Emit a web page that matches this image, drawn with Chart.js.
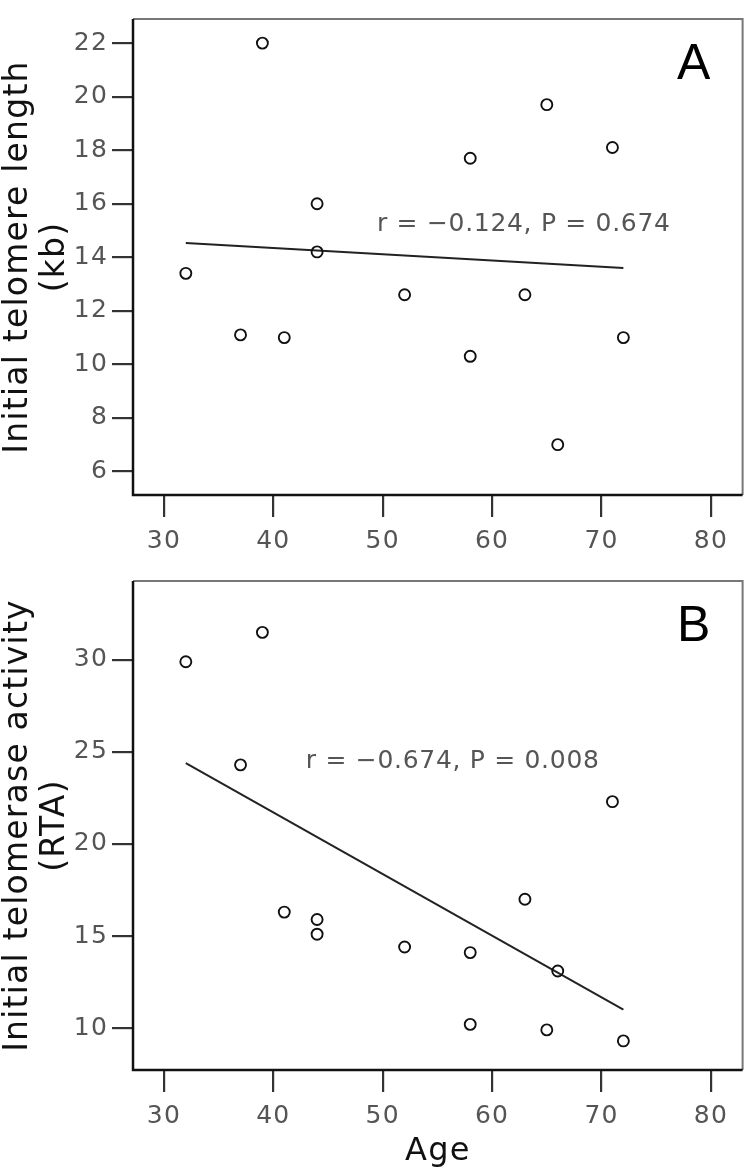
<!DOCTYPE html>
<html>
<head>
<meta charset="utf-8">
<title>Initial telomere length / telomerase activity vs Age</title>
<script src="https://cdn.jsdelivr.net/npm/chart.js"></script>
<style>
	body { margin: 0; background: #fff; }
	#lengthChart { position: absolute; left: 0; top: 0; }
	#activityChart { position: absolute; left: 0; top: 560px; }
</style>
</head>
<body>
<canvas id="lengthChart" width="750" height="560"></canvas>
<canvas id="activityChart" width="750" height="614"></canvas>
<script>
// ----------------data-------------------------

const ages = [32, 37, 39, 41, 44, 44, 52, 58, 58, 63, 65, 66, 71, 72];

const telomereLength = [13.4, 11.1, 22.0, 11.0, 16.0, 14.2, 12.6, 17.7, 10.3, 12.6, 19.7, 7.0, 18.1, 11.0];

const telomeraseActivity = [29.9, 24.3, 31.5, 16.3, 15.9, 15.1, 14.4, 14.1, 10.2, 17.0, 9.9, 13.1, 22.3, 9.3];

// fitted lines at both ends
const fitAges = [32, 72];
const lengthFit = [14.53, 13.6];
const activityFit = [24.4, 11.0];

const ageTicks = [30, 40, 50, 60, 70, 80];
const lengthTicks = [6, 8, 10, 12, 14, 16, 18, 20, 22];
const activityTicks = [10, 15, 20, 25, 30];

const lengthStats = "r = \u22120.124, P = 0.674";
const activityStats = "r = \u22120.674, P = 0.008";

// ----------------variables-------------------------

let myLengthChart;
let myActivityChart;

const lengthCtx = document.getElementById('lengthChart').getContext('2d');
const activityCtx = document.getElementById('activityChart').getContext('2d');

Chart.defaults.font.family = '"DejaVu Sans", sans-serif';

// ------------------functions-----------------------------------

// box round the plot, r/P text and the panel letter
const panelPlugin = {
	id: 'panel',
	beforeDraw(chart) {
		chart.ctx.letterSpacing = '1.2px';
	},
	afterDraw(chart) {
		const opts = chart.options.plugins.panel;
		const ctx = chart.ctx;
		const area = chart.chartArea;
		ctx.save();
		ctx.lineWidth = 2;
		ctx.strokeStyle = '#777';
		ctx.beginPath();
		ctx.moveTo(area.left, area.top);
		ctx.lineTo(area.right, area.top);
		ctx.lineTo(area.right, area.bottom);
		ctx.stroke();
		ctx.lineWidth = 2.5;
		ctx.strokeStyle = '#111';
		ctx.beginPath();
		ctx.moveTo(area.left, area.top);
		ctx.lineTo(area.left, area.bottom);
		ctx.lineTo(area.right, area.bottom);
		ctx.stroke();

		ctx.letterSpacing = '0.7px';
		ctx.fillStyle = '#555';
		ctx.font = '25px "DejaVu Sans"';
		ctx.textAlign = 'center';
		ctx.textBaseline = 'middle';
		ctx.fillText(opts.stats,
			chart.scales.x.getPixelForValue(opts.statsAt[0]),
			chart.scales.y.getPixelForValue(opts.statsAt[1]));

		ctx.letterSpacing = '0px';
		ctx.fillStyle = '#000';
		ctx.font = '50px "Liberation Sans Narrow", "Liberation Sans"';
		ctx.fillText(opts.letter, area.right - 49, area.top + 46);
		ctx.restore();
	}
};

function tickGrid() {
	return {
		display: true,
		drawOnChartArea: false,
		drawTicks: true,
		tickLength: 21,
		color: '#333',
		lineWidth: 2.2
	};
}

function buildConfig(values, fit, yTicks, yRange, yTitle, xTitle, xHeight, padTop, letter, stats, statsAt) {
	const points = ages.map((a, i) => ({ x: a, y: values[i] }));
	const fitLine = fitAges.map((a, i) => ({ x: a, y: fit[i] }));
	return {
		type: 'scatter',
		data: {
			datasets: [{
				data: points,
				pointRadius: 5.5,
				pointBorderWidth: 1.9,
				pointBorderColor: '#111',
				pointBackgroundColor: 'rgba(255,255,255,0)',
				showLine: false
			}, {
				data: fitLine,
				showLine: true,
				borderColor: '#222',
				borderWidth: 2,
				pointRadius: 0,
				fill: false
			}]
		},
		options: {
			responsive: false,
			animation: false,
			events: [],
			layout: { padding: { top: padTop, right: 6, left: 0, bottom: 0 } },
			scales: {
				x: {
					type: 'linear',
					min: 27.17,
					max: 82.9,
					afterBuildTicks: s => { s.ticks = ageTicks.map(v => ({ value: v })); },
					afterFit: s => { s.height = xHeight; },
					grid: Object.assign(tickGrid(), { tickLength: 22 }),
					border: { display: false },
					ticks: { color: '#555', font: { size: 25 }, padding: 9, maxRotation: 0, autoSkip: false },
					title: {
						display: !!xTitle,
						text: xTitle,
						color: '#111',
						font: { size: 32 },
						padding: { top: 0, bottom: 3 }
					}
				},
				y: {
					type: 'linear',
					min: yRange[0],
					max: yRange[1],
					afterBuildTicks: s => { s.ticks = yTicks.map(v => ({ value: v })); },
					afterFit: s => { s.width = 133; },
					grid: tickGrid(),
					border: { display: false },
					ticks: { color: '#555', font: { size: 25 }, padding: 4, autoSkip: false },
					title: {
						display: true,
						text: yTitle,
						color: '#111',
						font: { size: 33, lineHeight: 1.12 },
						padding: { top: 0, bottom: 0 }
					}
				}
			},
			plugins: {
				legend: { display: false },
				tooltip: { enabled: false },
				panel: { letter: letter, stats: stats, statsAt: statsAt }
			}
		},
		plugins: [panelPlugin]
	};
}

function createLengthChart() {
	const config = buildConfig(telomereLength, lengthFit, lengthTicks, [5.12, 22.9],
		['Initial telomere length', '(kb)'], '', 65, 6, 'A', lengthStats, [62.9, 15.24]);
	myLengthChart = new Chart(lengthCtx, config);
}

function createActivityChart() {
	const config = buildConfig(telomeraseActivity, activityFit, activityTicks, [7.72, 34.29],
		['Initial telomerase activity', '(RTA)'], 'Age', 104, 21, 'B', activityStats, [56.4, 24.46]);
	myActivityChart = new Chart(activityCtx, config);
}

createLengthChart();
createActivityChart();
</script>
</body>
</html>
